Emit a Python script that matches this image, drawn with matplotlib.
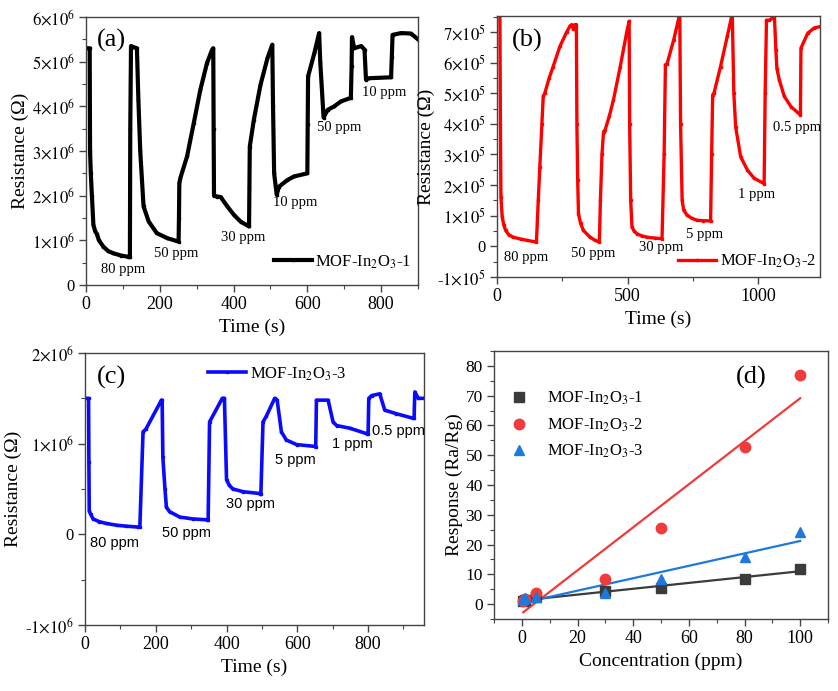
import numpy as np
import matplotlib
matplotlib.use("Agg")
import matplotlib.pyplot as plt
from matplotlib.ticker import FuncFormatter, MultipleLocator, AutoMinorLocator

plt.rcParams['font.family'] = ['Liberation Serif', 'DejaVu Serif']
plt.rcParams['mathtext.fontset'] = 'stix'

# ---------------- data ----------------
# panel (a): MOF-In2O3-1, time (s) and resistance (x1e6 Ohm)
t_a = [0, 10, 11, 13, 16, 20, 25, 29, 35, 47, 60, 74, 95, 115, 119, 120, 122, 130, 138, 142,
       147, 156, 170, 192, 220, 251, 252, 253, 256, 274, 292, 310, 328, 342, 345, 346, 347, 356,
       365, 383, 401, 419, 442, 443, 444, 455, 473, 492, 505, 507, 510, 517, 523, 546, 564, 600,
       601, 602, 619, 632, 635, 644, 655, 673, 691, 718, 720, 721, 727, 746, 755, 759, 768, 827,
       829, 831, 854, 881, 900]
R_a = [5.3, 5.3, 3.0, 2.5, 2.0, 1.35, 1.2, 1.15, 1.0, 0.86, 0.76, 0.71, 0.66, 0.63, 0.62, 3.5,
       5.35, 5.32, 5.3, 4.15, 3.0, 1.76, 1.42, 1.16, 1.05, 0.97, 1.5, 2.28, 2.4, 2.88, 3.62, 4.37,
       4.97, 5.27, 5.3, 3.5, 2.0, 1.98, 1.97, 1.76, 1.57, 1.42, 1.31, 2.2, 3.1, 3.7, 4.48, 5.08,
       5.38, 4.0, 2.5, 2.02, 2.2, 2.35, 2.43, 2.5, 3.6, 4.67, 5.19, 5.64, 5.0, 3.75, 3.92, 4.0,
       4.11, 4.19, 4.9, 5.55, 5.3, 5.35, 5.27, 4.6, 4.63, 4.65, 5.1, 5.6, 5.64, 5.63, 5.5]
labels_a = ["80 ppm", "50 ppm", "30 ppm", "10 ppm", "50 ppm", "10 ppm"]
lab_t_a = [100, 245, 426, 566, 687, 809]
lab_R_a = [0.35, 0.71, 1.07, 1.85, 3.53, 4.31]

# panel (b): MOF-In2O3-2, resistance (x1e5 Ohm)
t_b = [0, 11, 13, 15, 20, 26, 33, 45, 62, 90, 113, 151, 158, 164, 172, 177, 183, 200, 215, 241,
       267, 280, 286, 292, 298, 304, 306, 309, 312, 320, 331, 356, 375, 392, 396, 402, 408, 414,
       430, 446, 472, 497, 506, 508, 512, 517, 525, 536, 555, 574, 605, 632, 640, 645, 651, 677,
       700, 703, 709, 715, 728, 745, 767, 790, 818, 822, 826, 831, 856, 882, 901, 907, 914, 933,
       959, 985, 1023, 1027, 1032, 1042, 1055, 1062, 1068, 1072, 1081, 1100, 1126, 1162, 1164,
       1190, 1215, 1241]
R_b = [7.6, 7.6, 4.0, 1.6, 0.96, 0.7, 0.52, 0.38, 0.3, 0.24, 0.2, 0.14, 1.5, 2.6, 4.0, 4.9, 5.0,
       5.5, 5.87, 6.53, 7.0, 7.2, 7.24, 7.1, 7.24, 7.24, 4.0, 2.16, 1.07, 0.75, 0.52, 0.3, 0.2,
       0.14, 1.5, 3.0, 3.74, 3.8, 4.25, 4.78, 5.87, 7.0, 7.35, 4.0, 1.5, 0.63, 0.5, 0.41, 0.34,
       0.3, 0.27, 0.25, 3.0, 5.93, 5.95, 6.75, 7.6, 4.0, 1.5, 1.18, 1.02, 0.92, 0.85, 0.84, 0.83,
       3.0, 4.95, 5.0, 5.87, 6.86, 7.6, 5.0, 3.9, 2.93, 2.49, 2.22, 2.05, 5.0, 7.38, 7.38, 7.45,
       7.6, 6.42, 5.8, 5.44, 4.9, 4.56, 4.29, 6.47, 6.96, 7.13, 7.18]
labels_b = ["80 ppm", "50 ppm", "30 ppm", "5 ppm", "1 ppm", "0.5 ppm"]
lab_t_b = [110, 367, 628, 795, 995, 1149]
lab_R_b = [-0.35, -0.24, -0.04, 0.38, 1.69, 3.88]

# panel (c): MOF-In2O3-3, resistance (x1e6 Ohm)
t_c = [0, 10, 11, 12, 16, 23, 40, 60, 90, 117, 150, 155, 164, 172, 216, 218, 220, 226, 230, 239,
       268, 305, 345, 348, 352, 388, 394, 400, 408, 418, 447, 494, 497, 503, 512, 536, 543, 555,
       569, 598, 649, 652, 654, 687, 701, 711, 749, 796, 800, 802, 810, 833, 847, 880, 927, 930,
       932, 942, 958]
R_c = [1.5, 1.5, 0.8, 0.26, 0.22, 0.17, 0.14, 0.12, 0.1, 0.09, 0.08, 0.08, 1.13, 1.16, 1.48, 1.48,
       0.85, 0.5, 0.3, 0.25, 0.19, 0.17, 0.16, 0.16, 1.24, 1.5, 1.5, 0.6, 0.54, 0.5, 0.47, 0.45,
       0.44, 1.24, 1.3, 1.5, 1.48, 1.13, 1.04, 0.99, 0.97, 0.96, 1.48, 1.48, 1.24, 1.2, 1.17, 1.11,
       1.11, 1.5, 1.53, 1.55, 1.37, 1.33, 1.28, 1.28, 1.57, 1.5, 1.5]
labels_c = ["80 ppm", "50 ppm", "30 ppm", "5 ppm", "1 ppm", "0.5 ppm"]
lab_t_c = [84, 286, 467, 595, 755, 885]
lab_R_c = [-0.1, 0.02, 0.33, 0.82, 1.0, 1.14]

# panel (d): response vs concentration
conc = [0.5, 1, 5, 30, 50, 80, 100]
resp_1 = [1.1, 1.3, 2.3, 4.35, 5.5, 8.3, 11.9]
resp_2 = [1.2, 1.6, 3.8, 8.6, 25.7, 52.9, 77.0]
resp_3 = [1.6, 1.9, 2.5, 3.6, 8.4, 15.8, 24.2]
names = ["MOF-In$_2$O$_3$-1", "MOF-In$_2$O$_3$-2", "MOF-In$_2$O$_3$-3"]

# ---------------- figure ----------------
fig = plt.figure(figsize=(8.38, 6.91), dpi=100)
spine_col = '#444444'


def sci_fmt(exp):
    def f(v, pos):
        if abs(v) < 1e-12:
            return '0'
        m = int(round(v / 10 ** exp))
        sign = '-' if m < 0 else ''
        return sign + r'$%d{\times}10^{%d}$' % (abs(m), exp)
    return FuncFormatter(f)


def style(ax, xsize=13, ysize=12):
    for s in ax.spines.values():
        s.set_color(spine_col)
        s.set_linewidth(1.0)
    ax.tick_params(which='both', direction='out', top=False, right=False, color=spine_col)
    ax.tick_params(which='major', length=5, width=1.0, pad=3)
    ax.tick_params(which='minor', length=3, width=0.8)
    ax.tick_params(axis='x', labelsize=xsize)
    ax.tick_params(axis='y', labelsize=ysize)


# (a)
ax = fig.add_axes([86 / 838, 1 - 285 / 691, 332 / 838, 268 / 691])
ax.plot(t_a, np.array(R_a) * 1e6, color='black', lw=3, marker='s', ms=1.8,
        label=names[0])
ax.set_xlim(0, 900)
ax.set_ylim(0, 6e6)
ax.xaxis.set_major_locator(MultipleLocator(200))
ax.xaxis.set_minor_locator(AutoMinorLocator(2))
ax.yaxis.set_major_locator(MultipleLocator(1e6))
ax.yaxis.set_minor_locator(AutoMinorLocator(2))
ax.yaxis.set_major_formatter(sci_fmt(6))
style(ax)
ax.set_xlabel('Time (s)', fontsize=14, labelpad=4)
ax.set_ylabel('Resistance (Ω)', fontsize=14, labelpad=2)
for s, x, y in zip(labels_a, lab_t_a, lab_R_a):
    ax.text(x, y * 1e6, s, fontsize=10.5, ha='center', va='center')
ax.text(0.077, 0.914, '(a)', transform=ax.transAxes, fontsize=19, ha='center', va='center')
ax.legend(loc='center left', bbox_to_anchor=(0.565, 0.086), frameon=False, fontsize=12,
          borderaxespad=0, borderpad=0, handlelength=2.3, handletextpad=0.2)

# (b)
ax = fig.add_axes([497 / 838, 1 - 277 / 691, 323 / 838, 261 / 691])
ax.plot(t_b, np.array(R_b) * 1e5, color='#ff0000', lw=2.4, marker='s', ms=1.6,
        label=names[1])
ax.set_xlim(0, 1237)
ax.set_ylim(-1e5, 7.52e5)
ax.xaxis.set_major_locator(MultipleLocator(500))
ax.xaxis.set_minor_locator(AutoMinorLocator(2))
ax.yaxis.set_major_locator(MultipleLocator(1e5))
ax.yaxis.set_minor_locator(AutoMinorLocator(2))
ax.yaxis.set_major_formatter(sci_fmt(5))
style(ax)
ax.set_xlabel('Time (s)', fontsize=14, labelpad=4)
ax.set_ylabel('Resistance (Ω)', fontsize=14, labelpad=2)
for s, x, y in zip(labels_b, lab_t_b, lab_R_b):
    ax.text(x, y * 1e5, s, fontsize=10.5, ha='center', va='center')
ax.text(0.093, 0.906, '(b)', transform=ax.transAxes, fontsize=19, ha='center', va='center')
ax.legend(loc='center left', bbox_to_anchor=(0.56, 0.061), frameon=False, fontsize=12,
          borderaxespad=0, borderpad=0, handlelength=2.3, handletextpad=0.2)

# (c)
ax = fig.add_axes([85 / 838, 1 - 625 / 691, 339 / 838, 272 / 691])
ax.plot(t_c, np.array(R_c) * 1e6, color='#0a0aff', lw=2.6, marker='s', ms=1.6,
        label=names[2])
ax.set_xlim(0, 958)
ax.set_ylim(-1e6, 2e6)
ax.xaxis.set_major_locator(MultipleLocator(200))
ax.xaxis.set_minor_locator(AutoMinorLocator(2))
ax.yaxis.set_major_locator(MultipleLocator(1e6))
ax.yaxis.set_minor_locator(AutoMinorLocator(2))
ax.yaxis.set_major_formatter(sci_fmt(6))
style(ax)
ax.set_xlabel('Time (s)', fontsize=14, labelpad=4)
ax.set_ylabel('Resistance (Ω)', fontsize=14, labelpad=2)
for s, x, y in zip(labels_c, lab_t_c, lab_R_c):
    ax.text(x, y * 1e6, s, fontsize=10.5, ha='center', va='center',
            family=['Liberation Sans', 'DejaVu Sans'])
ax.text(0.079, 0.909, '(c)', transform=ax.transAxes, fontsize=19, ha='center', va='center')
ax.legend(loc='center left', bbox_to_anchor=(0.363, 0.923), frameon=False, fontsize=12,
          borderaxespad=0, borderpad=0, handlelength=2.3, handletextpad=0.2)

# (d)
ax = fig.add_axes([494 / 838, 1 - 619 / 691, 334 / 838, 268 / 691])
cols = ['#3b3b3b', '#ef3b3b', '#1f78dc']
marks = ['s', 'o', '^']
for resp, c, m, n in zip([resp_1, resp_2, resp_3], cols, marks, names):
    ax.plot(conc, resp, linestyle='none', marker=m, color=c, ms=7.5, label=n, zorder=3)
    k, b = np.polyfit(conc, resp, 1)
    xs = np.array([conc[0], conc[-1]])
    ax.plot(xs, k * xs + b, color=c, lw=1.6, zorder=2)
ax.set_xlim(-10, 110)
ax.set_ylim(-5, 85)
ax.xaxis.set_major_locator(MultipleLocator(20))
ax.xaxis.set_minor_locator(AutoMinorLocator(2))
ax.yaxis.set_major_locator(MultipleLocator(10))
ax.yaxis.set_minor_locator(AutoMinorLocator(2))
style(ax, xsize=13, ysize=12.5)
ax.set_xlabel('Concentration (ppm)', fontsize=14, labelpad=4)
ax.set_ylabel('Response (Ra/Rg)', fontsize=14, labelpad=2)
ax.text(0.77, 0.9, '(d)', transform=ax.transAxes, fontsize=19, ha='center', va='center')
ax.legend(loc='upper left', bbox_to_anchor=(0.05, 0.855), frameon=False, fontsize=12,
          borderaxespad=0, borderpad=0, handlelength=1.0, handletextpad=1.2,
          labelspacing=0.55)

fig.savefig('out.png', dpi=100)
